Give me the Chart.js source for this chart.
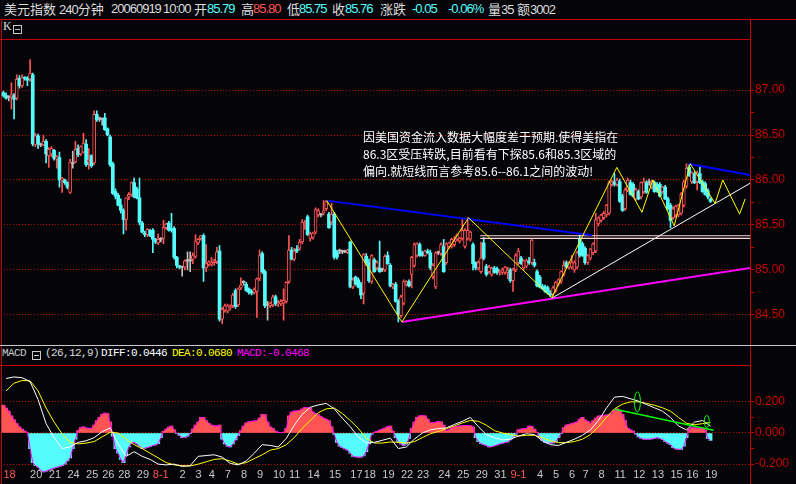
<!DOCTYPE html>
<html>
<head>
<meta charset="utf-8">
<script src="https://cdn.jsdelivr.net/npm/chart.js@4/dist/chart.umd.min.js"></script>
<style>
  html, body { margin: 0; padding: 0; }
  body { width: 796px; height: 484px; background: #050509; position: relative; overflow: hidden; }
  .ln { position: absolute; }
  .red { background: #c80000; }
  .tx { position: absolute; white-space: nowrap; line-height: 17px; }
  .cjk { font-family: "Noto Sans CJK SC", sans-serif; font-size: 13px; color: #dcdcdc; }
  .num { font-family: "Liberation Sans", sans-serif; font-size: 13px; letter-spacing: -1px; color: #dcdcdc; }
  .cy { color: #54fcfc; }
  .rd { color: #ff5454; }
  .mono { font-family: "Liberation Mono", monospace; font-size: 11px; letter-spacing: -0.6px; }
  .box { position: absolute; width: 7px; height: 7px; border: 1px solid #c8c8c8; }
  .box i { position: absolute; left: 1px; top: 3px; width: 5px; height: 1px; background: #c8c8c8; }
  .note { position: absolute; left: 363px; font-family: "Noto Sans CJK SC", sans-serif; font-size: 12px; color: #ffffff; white-space: nowrap; line-height: 17px; }
  canvas { position: absolute; left: 0; }
</style>
</head>
<body>

<!-- quote header -->
<div class="tx cjk" style="left:4px;top:0">美元指数</div>
<div class="tx cjk" style="left:59px;top:0"><span class="num">240</span>分钟</div>
<div class="tx num" style="left:111px;top:0">20060919</div>
<div class="tx num" style="left:163px;top:0">10:00</div>
<div class="tx cjk" style="left:194px;top:0">开</div>
<div class="tx num cy" style="left:207px;top:0">85.79</div>
<div class="tx cjk" style="left:241px;top:0">高</div>
<div class="tx num rd" style="left:253px;top:0">85.80</div>
<div class="tx cjk" style="left:287px;top:0">低</div>
<div class="tx num cy" style="left:299px;top:0">85.75</div>
<div class="tx cjk" style="left:332px;top:0">收</div>
<div class="tx num cy" style="left:345px;top:0">85.76</div>
<div class="tx cjk" style="left:380px;top:0">涨跌</div>
<div class="tx num cy" style="left:412px;top:0">-0.05</div>
<div class="tx num cy" style="left:448px;top:0">-0.06%</div>
<div class="tx cjk" style="left:488px;top:0">量<span class="num">35</span></div>
<div class="tx cjk" style="left:517px;top:0">额<span class="num">3002</span></div>

<!-- panel frame -->
<div class="ln red" style="left:0;top:19px;width:796px;height:1px"></div>
<div class="ln red" style="left:0;top:39px;width:750px;height:1px"></div>
<div class="ln red" style="left:750px;top:19px;width:1px;height:465px"></div>
<div class="ln red" style="left:1px;top:19px;width:1px;height:465px"></div>
<div class="ln" style="left:0;top:345px;width:796px;height:1px;background:#c8c8c8"></div>
<div class="ln red" style="left:0;top:365px;width:750px;height:1px"></div>

<div class="tx" style="left:3px;top:18px;font-family:'Liberation Serif',serif;font-size:12px;color:#dcdcdc">K</div>
<div class="box" style="left:13px;top:25px"><i></i></div>

<div class="tx mono" style="left:2px;top:345px;color:#c8c8c8">MACD</div>
<div class="box" style="left:32px;top:351px"><i></i></div>
<div class="tx mono" style="left:45px;top:345px;color:#dcdcdc">(26,12,9)</div>
<div class="tx mono" style="left:101px;top:345px;color:#ffffff">DIFF:0.0446</div>
<div class="tx mono" style="left:172px;top:345px;color:#ffff00">DEA:0.0680</div>
<div class="tx mono" style="left:237px;top:345px;color:#ff00ff">MACD:-0.0468</div>

<canvas id="kline" width="796" height="306" style="top:39px"></canvas>
<canvas id="macd" width="796" height="119" style="top:365px"></canvas>

<div class="note" style="top:128px">因美国资金流入数据大幅度差于预期.使得美指在</div>
<div class="note" style="top:145px">86.3区受压转跌,目前看有下探85.6和85.3区域的</div>
<div class="note" style="top:162px">偏向.就短线而言参考85.6--86.1之间的波动!</div>

<script>
// ---- 240-minute bars, US dollar index ----
const openPx = [
86.97,86.94,86.92,86.92,86.94,86.91,87.13,87.05,87.14,87.13,
87.12,87.17,86.39,86.49,86.39,86.39,86.43,86.27,86.29,86.33,
86.23,86.25,86.00,86.00,85.97,85.86,86.18,86.20,86.35,86.29,
86.31,86.40,86.20,86.27,86.19,86.73,86.68,86.67,86.69,86.57,
86.48,86.18,85.87,
85.83,85.72,85.66,85.56,85.81,85.84,85.97,85.90,85.80,85.52,
85.41,85.39,85.44,85.44,85.34,85.30,85.34,85.35,85.47,85.52,
85.46,85.46,85.14,85.04,85.03,85.03,85.10,85.10,85.12,85.15,
85.30,85.35,85.38,85.02,85.06,85.06,85.08,85.09,85.21,84.45,
84.55,84.54,84.58,84.60,84.77,84.61,84.80,84.86,84.84,84.79,
84.76,84.75,84.76,84.90,85.18,84.98,84.61,84.60,84.61,84.70,
84.62,84.62,84.63,84.65,84.87,85.22,85.12,85.23,
85.24,85.31,85.50,85.59,85.35,85.36,85.42,85.61,85.61,85.63,
85.68,85.62,85.53,85.62,85.20,85.21,85.20,85.20,85.19,85.31,
84.81,84.92,84.89,84.84,84.74,85.15,85.08,84.87,85.11,85.02,
85.02,85.00,85.00,85.16,85.05,84.81,84.84,84.65,84.49,84.63,
84.84,84.87,84.95,85.05,85.16,85.28,85.19,85.16,85.21,85.19,
84.93,84.81,85.19,85.18,85.26,85.08,85.26,85.26,85.28,85.34,
85.32,85.35,85.26,85.35,85.34,85.28,85.08,
85.02,84.98,85.30,85.04,84.98,84.95,85.02,85.01,84.97,84.97,
84.97,84.97,85.00,84.88,85.00,85.08,85.13,85.02,85.04,85.10,
85.08,85.08,84.98,84.92,84.82,84.81,84.80,84.74,84.73,84.77,
84.84,84.87,84.95,85.08,85.03,85.03,85.00,85.03,85.34,85.29,
85.24,85.08,85.13,85.19,85.21,85.51,85.55,85.58,85.61,85.63,
85.95,85.98,85.95,85.98,85.82,85.68,85.89,85.97,85.95,85.79,
85.87,85.81,85.87,85.97,85.97,85.92,85.97,85.95,85.95,85.87,
85.92,85.79,85.72,85.58,85.61,85.61,85.63,85.72,85.93,86.14,
85.98,86.07,85.98,86.07,85.98,85.96,85.88,85.79
];
const highPx = [
86.99,86.97,86.94,87.08,86.96,87.17,87.16,87.17,87.15,87.15,
87.34,87.19,86.52,86.51,86.41,86.50,86.45,86.36,86.37,86.34,
86.27,86.31,86.03,86.01,85.98,86.23,86.32,86.43,86.39,86.38,
86.52,86.45,86.35,86.28,86.77,86.77,86.70,86.69,86.74,86.58,
86.50,86.20,85.90,
85.85,85.79,85.68,85.80,85.86,85.98,86.02,85.92,86.02,85.54,
85.43,85.46,85.45,85.46,85.35,85.40,85.36,85.55,85.52,85.54,
85.63,85.48,85.15,85.05,85.04,85.11,85.20,85.20,85.19,85.39,
85.35,85.38,85.40,85.28,85.10,85.14,85.12,85.25,85.27,84.58,
84.62,84.62,84.61,84.74,84.79,84.80,84.91,84.88,84.86,84.80,
84.78,84.80,84.91,85.22,85.20,85.00,84.65,84.64,84.72,84.72,
84.66,84.67,84.79,84.87,85.38,85.25,85.24,85.27,
85.34,85.56,85.55,85.61,85.42,85.42,85.69,85.68,85.63,85.77,
85.77,85.64,85.74,85.64,85.22,85.23,85.22,85.22,85.23,85.32,
84.91,84.93,84.91,84.86,85.18,85.18,85.12,85.17,85.13,85.10,
85.32,85.02,85.17,85.20,85.07,84.85,84.86,84.67,84.72,84.89,
84.88,84.89,85.15,85.30,85.30,85.30,85.21,85.22,85.23,85.22,
85.07,85.20,85.21,85.30,85.34,85.30,85.31,85.35,85.37,85.40,
85.36,85.57,85.46,85.58,85.43,85.30,85.09,
85.10,85.31,85.36,85.06,85.05,85.03,85.04,85.03,85.00,85.02,
85.04,85.03,85.02,85.02,85.18,85.24,85.15,85.11,85.12,85.14,
85.35,85.12,85.00,84.94,84.84,84.83,84.82,84.77,84.82,84.87,
84.90,84.99,85.10,85.10,85.09,85.16,85.10,85.21,85.39,85.31,
85.26,85.17,85.24,85.30,85.63,85.59,85.62,85.65,85.73,85.99,
86.00,86.07,86.02,86.01,85.84,85.91,86.02,86.00,85.97,85.91,
85.89,85.98,86.02,85.99,86.01,86.00,85.99,85.97,85.97,85.93,
85.94,85.81,85.74,85.70,85.72,85.73,85.86,86.00,86.18,86.17,
86.09,86.09,86.10,86.14,86.00,85.98,85.90,85.80
];
const lowPx = [
86.92,86.90,86.88,86.79,86.68,86.89,87.02,87.03,87.11,87.05,
87.10,86.38,86.37,86.35,86.37,86.38,86.19,86.14,86.26,86.22,
86.13,85.92,85.86,85.95,85.90,85.85,86.13,86.19,86.26,86.27,
86.30,86.15,86.12,86.14,86.17,86.65,86.65,86.61,86.55,86.49,
86.15,85.84,85.79,
85.71,85.63,85.40,85.44,85.78,85.82,85.80,85.79,85.50,85.41,
85.37,85.37,85.37,85.19,85.29,85.28,85.31,85.29,85.45,85.43,
85.42,85.12,85.02,85.01,84.93,85.00,85.00,84.98,85.07,85.13,
85.28,85.33,84.87,84.98,85.04,85.04,85.05,85.07,84.43,84.40,
84.53,84.52,84.55,84.58,84.57,84.59,84.78,84.83,84.76,84.73,
84.72,84.73,84.47,84.88,84.96,84.58,84.44,84.58,84.59,84.60,
84.59,84.60,84.44,84.63,84.85,85.11,85.10,85.19,
85.22,85.29,85.45,85.38,85.32,85.34,85.40,85.59,85.59,85.61,
85.66,85.46,85.50,85.12,85.12,85.18,85.18,85.19,85.18,84.80,
84.79,84.83,84.80,84.68,84.62,85.05,84.86,84.85,84.97,85.00,
84.97,84.98,84.98,85.06,84.81,84.79,84.64,84.42,84.47,84.61,
84.82,84.81,84.80,85.03,85.14,85.15,85.15,85.15,85.18,85.00,
84.90,84.79,85.17,85.16,84.97,85.06,85.24,85.24,85.26,85.32,
85.30,85.33,85.24,85.33,85.32,85.00,85.00,
85.00,84.96,85.11,84.93,84.96,84.93,84.96,84.95,84.94,84.95,
84.95,84.90,84.86,84.76,84.98,85.06,85.06,85.00,85.02,85.06,
85.06,85.03,84.81,84.80,84.78,84.75,84.73,84.70,84.71,84.75,
84.82,84.85,84.93,85.02,85.01,85.01,84.97,85.01,85.14,85.15,
85.06,85.06,85.11,85.17,85.19,85.49,85.53,85.56,85.59,85.61,
85.93,85.93,85.93,85.75,85.65,85.66,85.87,85.83,85.81,85.77,
85.78,85.79,85.85,85.85,85.94,85.90,85.86,85.86,85.81,85.85,
85.78,85.67,85.47,85.56,85.59,85.59,85.61,85.70,85.91,86.04,
85.96,85.96,85.89,85.96,85.86,85.83,85.79,85.75
];
const closePx = [
86.94,86.91,86.92,86.95,86.90,87.12,87.05,87.14,87.13,87.11,
87.19,86.40,86.49,86.40,86.39,86.43,86.29,86.34,86.35,86.24,
86.26,86.00,86.02,85.97,85.92,86.20,86.18,86.34,86.28,86.37,
86.41,86.17,86.22,86.16,86.73,86.67,86.68,86.67,86.56,86.50,
86.17,85.85,85.82,
85.72,85.66,85.56,85.80,85.84,85.97,85.81,85.80,85.53,85.42,
85.39,85.45,85.38,85.34,85.31,85.34,85.34,85.47,85.51,85.44,
85.44,85.14,85.05,85.03,85.03,85.10,85.10,85.10,85.16,85.32,
85.34,85.38,85.02,85.07,85.09,85.08,85.10,85.20,84.45,84.56,
84.60,84.60,84.59,84.72,84.59,84.79,84.83,84.86,84.77,84.75,
84.74,84.78,84.90,85.16,84.98,84.60,84.61,84.63,84.70,84.62,
84.63,84.65,84.66,84.86,85.22,85.12,85.21,85.21,
85.31,85.53,85.52,85.39,85.40,85.41,85.67,85.66,85.61,85.66,
85.76,85.47,85.62,85.14,85.14,85.21,85.20,85.20,85.22,84.81,
84.89,84.84,84.81,84.72,85.17,85.08,84.88,85.16,84.98,85.08,
84.98,85.00,85.15,85.07,84.82,84.84,84.65,84.51,84.70,84.87,
84.87,84.82,85.14,85.28,85.29,85.16,85.16,85.21,85.19,85.02,
85.05,85.19,85.19,85.28,84.98,85.29,85.30,85.34,85.32,85.39,
85.35,85.44,85.44,85.44,85.42,85.07,85.02,
85.08,85.13,85.13,84.95,85.03,85.02,84.97,84.97,84.98,85.00,
85.03,85.00,84.88,85.00,85.16,85.21,85.07,85.10,85.10,85.08,
85.33,85.05,84.82,84.81,84.79,84.76,84.74,84.72,84.80,84.86,
84.89,84.98,85.05,85.03,85.08,85.08,85.08,85.19,85.16,85.16,
85.08,85.16,85.23,85.29,85.56,85.58,85.61,85.63,85.72,85.97,
85.98,85.95,86.00,85.76,85.66,85.89,86.00,85.84,85.82,85.89,
85.79,85.97,85.98,85.86,85.97,85.98,85.87,85.87,85.82,85.92,
85.79,85.68,85.55,85.68,85.71,85.72,85.84,85.98,86.13,86.05,
86.08,85.97,86.08,85.97,85.87,85.84,85.81,85.76
];

// day labels along the time axis (bar index of the first bar shown for that day)
const dayTickIndex = [0,10,17,24,31,37,43,50,56,66,72,77,83,89,95,101,107,114,122,130,
  135,142,149,155,163,170,177,184,190,200,206,212,217,223,229,236,243,250,256,263];
const dayTickLabel = ['18','20','21','24','25','26','28','29','8-1','2','3','4','7','8','9','10','11','14','15','17',
  '18','19','22','23','24','25','29','31','9-1','4','5','6','7','8','11','12','13','15','16','19'];
// labels shown in red (start of the window and first trading day of a month)
const redDayTicks = [0, 8, 28];

const priceTicks = [84.5, 84.75, 85, 85.25, 85.5, 85.75, 86, 86.25, 86.5, 86.75, 87];
const macdTicks = [-0.2, -0.1, 0, 0.1, 0.2];

// MACD(26,12,9) histogram, one value per bar
const macdHist = [
0.18,0.16,0.14,0.11,0.085,0.06,0.04,0.025,0.012,0.003,
-0.10,-0.19,-0.21,-0.22,-0.24,-0.25,-0.245,-0.238,-0.232,-0.225,
-0.22,-0.215,-0.21,-0.20,-0.18,-0.16,-0.10,-0.04,0.015,0.035,
0.04,0.032,0.03,0.03,0.05,0.08,0.10,0.12,0.128,0.125,
0.07,-0.02,-0.10,-0.13,-0.17,-0.19,-0.14,-0.09,-0.065,-0.06,
-0.07,-0.085,-0.10,-0.098,-0.092,-0.088,-0.08,-0.076,-0.068,-0.03,
0.01,0.025,0.038,0.045,0.02,-0.005,-0.015,-0.03,-0.028,-0.02,
-0.005,0.025,0.05,0.07,0.10,0.10,0.08,0.062,0.05,0.046,
0.045,0.05,-0.04,-0.07,-0.085,-0.09,-0.07,-0.045,-0.015,0.015,
0.045,0.065,0.072,0.075,0.077,0.08,0.095,0.12,0.118,0.07,
0.04,0.03,0.012,0.005,0.002,0.005,0.03,0.11,0.135,0.14,
0.142,0.145,0.155,0.165,0.163,0.16,0.135,0.125,0.118,0.105,
0.095,0.088,0.08,0.04,-0.01,-0.06,-0.085,-0.095,-0.102,-0.11,
-0.13,-0.15,-0.153,-0.155,-0.155,-0.148,-0.12,-0.07,-0.01,0.005,
0.01,0.018,0.025,0.032,0.04,0.045,0.01,-0.03,-0.06,-0.07,
-0.08,-0.072,-0.035,0.03,0.07,0.10,0.11,0.112,0.11,0.09,
0.066,0.065,0.068,0.074,0.072,0.05,0.015,0.02,0.033,0.038,
0.042,0.045,0.046,0.048,0.048,0.046,0.04,-0.03,-0.055,-0.068,
-0.075,-0.08,-0.09,-0.088,-0.082,-0.076,-0.07,-0.066,-0.062,-0.058,
-0.045,-0.03,-0.01,0.02,0.025,0.027,0.03,0.045,0.042,0.025,
0.005,-0.03,-0.048,-0.06,-0.065,-0.066,-0.064,-0.055,-0.03,-0.005,
0.035,0.05,0.055,0.06,0.065,0.07,0.09,0.10,0.085,0.075,
0.062,0.08,0.095,0.108,0.11,0.112,0.115,0.12,0.125,0.145,
0.155,0.145,0.12,0.08,0.03,0.02,0.012,-0.008,-0.025,-0.035,
-0.04,-0.04,-0.04,-0.038,-0.035,-0.03,-0.035,-0.042,-0.055,-0.065,
-0.075,-0.095,-0.103,-0.105,-0.105,-0.085,-0.03,0.025,0.035,0.033,
0.031,0.03,0.028,0.02,-0.035,-0.047
];
// DIFF and DEA, read every third bar (bars 1, 4, 7 ... 265)
const diffLine = [
0.35,0.36,0.355,0.33,0.215,0.06,-0.03,-0.10,-0.09,-0.06,
-0.05,-0.03,0.008,0.033,-0.07,-0.15,-0.12,-0.15,-0.17,-0.20,
-0.205,-0.20,-0.215,-0.21,-0.15,-0.145,-0.14,-0.155,-0.195,-0.205,
-0.18,-0.13,-0.075,-0.08,-0.09,-0.035,0.05,0.12,0.165,0.18,
0.19,0.155,0.095,0.04,-0.025,-0.065,-0.06,-0.047,-0.033,-0.10,
-0.09,-0.04,0.0,0.02,0.028,0.033,0.055,0.075,0.10,0.04,
-0.01,-0.03,-0.045,-0.04,-0.02,-0.005,-0.01,-0.05,-0.075,-0.08,
-0.06,-0.04,-0.015,0.02,0.08,0.16,0.23,0.235,0.22,0.205,
0.183,0.162,0.14,0.10,0.045,0.02,0.07,0.08,0.0446
];
const deaLine = [
0.27,0.32,0.337,0.335,0.27,0.16,0.07,-0.005,-0.06,-0.07,
-0.065,-0.055,-0.025,0.005,0.0,-0.04,-0.075,-0.10,-0.13,-0.16,
-0.19,-0.205,-0.21,-0.212,-0.20,-0.185,-0.17,-0.165,-0.18,-0.20,
-0.19,-0.165,-0.14,-0.11,-0.10,-0.075,-0.03,0.03,0.08,0.13,
0.155,0.16,0.125,0.08,0.03,-0.035,-0.064,-0.065,-0.058,-0.06,
-0.065,-0.055,-0.03,-0.005,0.01,0.028,0.045,0.065,0.08,0.075,
0.05,0.015,0.0,-0.01,-0.02,-0.015,-0.015,-0.03,-0.05,-0.062,
-0.062,-0.055,-0.04,-0.01,0.04,0.10,0.155,0.185,0.20,0.20,
0.19,0.178,0.162,0.14,0.10,0.062,0.053,0.06,0.068
];

// study lines drawn on the price panel: [bar index, price]
const zigzag = [[121.2,85.77],[149.3,84.42],[174.3,85.58],[205.5,84.69],[229.9,86.14],[239.3,85.64],
  [243.4,86.00],[251.4,85.49],[257.4,86.18],[266.7,85.74],[269.6,86.00],[275.9,85.62],[278.0,85.79]];
const upperTrendA = [[121.2,85.77],[220.5,85.385]];
const upperTrendB = [[256.7,86.18],[279.8,86.056]];
const lowerTrend = [[149.3,84.42],[279.8,85.02]];
const riseTrend = [[205.5,84.684],[279.8,85.963]];
const bandTop = [[178.7,85.379],[279.8,85.379]];
const bandBottom = [[178.7,85.35],[279.8,85.35]];
// study marks on the MACD panel: [bar index, value]
const macdTrend = [[229.3,0.153],[266.1,0.018]];
const macdRings = [[237.6,0.20],[263.6,0.074]];

// ---- styling ----
const BG = '#050509', UP = '#ff5454', DOWN = '#54fcfc', FLAT = '#c0c0c0';
const AXIS_RED = '#c80000', GRID_RED = '#b40000';
const X_MIN = -0.9, X_MAX = 279.8;
const tone = i => closePx[i] > openPx[i] ? UP : (closePx[i] < openPx[i] ? DOWN : FLAT);
const pts = arr => arr.map(p => ({x: p[0], y: p[1]}));
const near = (a, b) => Math.abs(a - b) < 1e-9;

Chart.defaults.font.family = "'Liberation Sans', sans-serif";

const bodies = openPx.map((o, i) => ({x: i, y: [Math.min(o, closePx[i]), Math.max(o, closePx[i])]}));
const wicks = openPx.map((o, i) => ({x: i, y: [lowPx[i], highPx[i]]}));

const studyLine = (data, color, width, order) => ({
  type: 'line', data: pts(data), borderColor: color, borderWidth: width,
  pointRadius: 0, fill: false, tension: 0, order
});

const priceLabelled = v => near(v * 2, Math.round(v * 2));

new Chart(document.getElementById('kline'), {
  type: 'bar',
  data: {
    datasets: [
      {
        data: wicks, stack: 'k', order: 10, barThickness: 1,
        backgroundColor: c => tone(c.dataIndex), borderWidth: 0
      },
      {
        data: bodies, stack: 'k', order: 9, barThickness: 3, minBarLength: 1,
        backgroundColor: c => tone(c.dataIndex) === UP ? BG : tone(c.dataIndex),
        borderColor: c => tone(c.dataIndex),
        borderWidth: c => tone(c.dataIndex) === UP ? 1 : 0,
        borderSkipped: false
      },
      studyLine(bandTop, '#ffd8d8', 1.2, 6),
      studyLine(bandBottom, '#ffd8d8', 1.2, 6),
      studyLine(lowerTrend, '#ff00ff', 2, 5),
      studyLine(upperTrendA, '#0000ff', 2, 4),
      studyLine(upperTrendB, '#0000ff', 2, 4),
      studyLine(riseTrend, '#ffffff', 1, 3),
      studyLine(zigzag, '#ffff00', 1, 2)
    ]
  },
  options: {
    responsive: false, animation: false, devicePixelRatio: 1, events: [],
    layout: {padding: {left: 1, right: 0, top: 0, bottom: 0}},
    plugins: {legend: {display: false}, tooltip: {enabled: false}},
    scales: {
      x: {type: 'linear', min: X_MIN, max: X_MAX, offset: false, display: false},
      y: {
        type: 'linear', position: 'right', min: 84.255, max: 87.477, stacked: false,
        afterFit: s => { s.width = 46; },
        afterBuildTicks: s => { s.ticks = priceTicks.map(v => ({value: v})); },
        ticks: {
          autoSkip: false, padding: 1, color: AXIS_RED,
          font: {size: 12, family: "'Liberation Sans', sans-serif"},
          callback: v => priceLabelled(v) ? v.toFixed(2) : ''
        },
        grid: {
          drawOnChartArea: true, lineWidth: 1, tickLength: 4, tickColor: AXIS_RED,
          color: c => (c.tick && priceLabelled(c.tick.value)) ? GRID_RED : 'rgba(0,0,0,0)'
        },
        border: {display: true, color: AXIS_RED, width: 1, dash: [1, 2]}
      }
    }
  }
});

const macdLabelled = v => near(v, 0) || near(Math.abs(v), 0.2);

const ringPlugin = {
  id: 'macdRings',
  afterDatasetsDraw(chart) {
    const {ctx, scales} = chart;
    const radii = [[3, 10], [2.5, 6]];
    ctx.save();
    ctx.strokeStyle = '#00ff00';
    ctx.lineWidth = 1;
    macdRings.forEach((r, k) => {
      const cx = scales.x.getPixelForValue(r[0]);
      const cy = scales.y.getPixelForValue(r[1]);
      ctx.beginPath();
      ctx.ellipse(cx, cy, radii[k][0], radii[k][1], 0, 0, Math.PI * 2);
      ctx.stroke();
    });
    ctx.restore();
  }
};

new Chart(document.getElementById('macd'), {
  type: 'bar',
  data: {
    datasets: [
      {
        data: macdHist.map((v, i) => ({x: i, y: v})), order: 10, barThickness: 3.2,
        backgroundColor: c => (c.raw && c.raw.y >= 0) ? UP : DOWN, borderWidth: 0
      },
      studyLine(macdHist.map((v, i) => [i, v]), '#ff00ff', 1, 5),
      studyLine(deaLine.map((v, k) => [1 + 3 * k, v]), '#ffff00', 1, 3),
      studyLine(diffLine.map((v, k) => [1 + 3 * k, v]), '#ffffff', 1, 2),
      studyLine(macdTrend, '#00ff00', 1.5, 1)
    ]
  },
  options: {
    responsive: false, animation: false, devicePixelRatio: 1, events: [],
    layout: {padding: {left: 1, right: 0, top: 0, bottom: 0}},
    plugins: {legend: {display: false}, tooltip: {enabled: false}},
    scales: {
      x: {
        type: 'linear', min: X_MIN, max: X_MAX, offset: false, position: 'bottom',
        afterFit: s => { s.height = 0; },
        afterBuildTicks: s => { s.ticks = dayTickIndex.map(v => ({value: v})); },
        grid: {display: false, drawTicks: false},
        border: {display: false},
        ticks: {
          autoSkip: false, maxRotation: 0, minRotation: 0, align: 'start',
          mirror: true, crossAlign: 'center', padding: 1, z: 1,
          font: {size: 11, family: "'Liberation Sans', sans-serif"},
          color: c => redDayTicks.includes(c.index) ? UP : '#c8c8c8',
          callback: (v, idx) => dayTickLabel[idx]
        }
      },
      y: {
        type: 'linear', position: 'right', min: -0.275, max: 0.384, stacked: false,
        afterFit: s => { s.width = 46; },
        afterBuildTicks: s => { s.ticks = macdTicks.map(v => ({value: v})); },
        ticks: {
          autoSkip: false, padding: 1, color: AXIS_RED,
          font: {size: 12, family: "'Liberation Sans', sans-serif"},
          callback: v => macdLabelled(v) ? (near(v, 0) ? '0.000' : v.toFixed(3)) : ''
        },
        grid: {
          drawOnChartArea: true, lineWidth: 1, tickLength: 4, tickColor: AXIS_RED,
          color: c => (c.tick && macdLabelled(c.tick.value)) ? GRID_RED : 'rgba(0,0,0,0)'
        },
        border: {display: true, color: AXIS_RED, width: 1, dash: [1, 2]}
      }
    }
  },
  plugins: [ringPlugin]
});
</script>
</body>
</html>
